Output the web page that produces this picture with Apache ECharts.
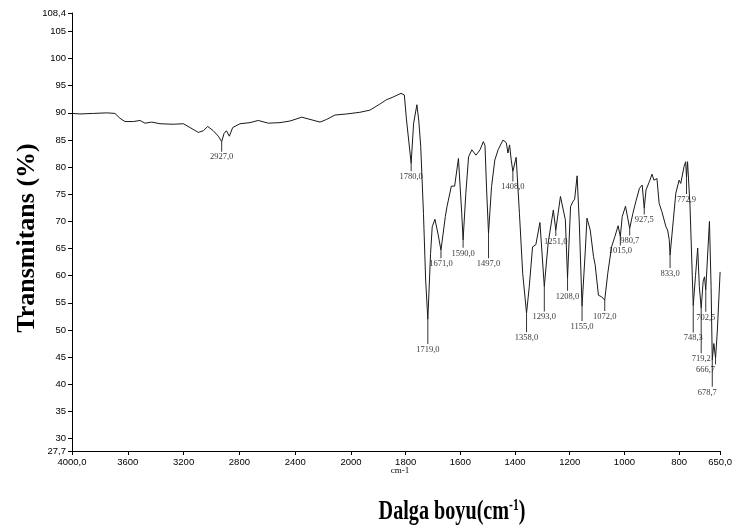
<!DOCTYPE html>
<html><head><meta charset="utf-8">
<script src="https://cdn.jsdelivr.net/npm/echarts@6/dist/echarts.min.js"></script>
<style>html,body{margin:0;padding:0;background:#fff}#c{width:735px;height:526px}</style>
</head><body><div id="c"></div>
<script>
// ---- data ----
const wavenumbers = [4000,3943,3847,3751,3692,3656,3620,3561,3513,3477,3429,3369,3274,3202,3154,3095,3059,3027,2987,2951,2927,2910,2893,2872,2848,2796,2724,2665,2593,2509,2437,2353,2294,2222,2174,2115,2031,2000,
1968,1931,1895,1871,1847,1817,1805,1797,1780,1771,1759,1752,1745,1735,1727,1719,1715,1709,1703,1693,1681,1671,1655,1649,1633,1621,1607,1595,1590,1580,1570,1558,1543,1528,1516,1510,1504,1497,1486,1474,1462,1444,1432,1426,1420,1414,1408,1396,1384,1372,1358,1348,1336,1324,1309,1293,1279,1260,1251,1234,1216,1208,1197,1189,1182,1173,1165,1155,1143,1137,1125,1113,1107,1095,1083,1078,1072,1061,1047,1035,1023,1015,1008,996,980.7,969,957,945,935,927.5,921,909,899,892,881,873,863,848,842,836,833,821,812,800,794,782,776,772.9,769,760,748.3,740,732,726,719.2,712,707,702.5,689,683,678.7,673,666.7,660,650];
const transmittance = [89.9,89.8,89.9,90.0,89.9,89.0,88.4,88.4,88.6,88.1,88.3,88.0,87.9,88.0,87.3,86.4,86.7,87.5,86.7,85.7,84.7,86.2,86.7,85.7,87.3,88.0,88.2,88.6,88.1,88.2,88.5,89.2,88.8,88.3,88.8,89.6,89.8,89.9,
90.1,90.5,91.6,92.4,92.9,93.6,93.3,88.7,80.7,88.1,91.5,88.5,83.8,71.5,59.2,52.0,56.8,64.1,69.0,70.4,67.5,64.7,70.9,72.7,76.5,76.5,81.6,71.5,66.6,75.2,81.9,83.2,82.2,83.2,84.7,84.0,75.8,67.8,76.4,81.3,83.2,85.0,84.5,82.6,84.1,81.3,79.2,81.8,71.5,60.4,53.1,58.0,65.3,65.7,69.8,58.0,66.0,72.1,68.4,74.6,70.3,59.6,72.7,73.6,74.1,78.4,69.7,54.4,64.7,70.6,68.4,63.5,62.0,56.4,56.1,56.2,55.5,60.4,65.3,67.2,69.2,67.2,70.9,72.8,68.7,71.5,73.9,76.1,76.7,72.4,75.8,77.3,78.7,77.6,77.9,73.3,71.8,69.0,68.4,66.6,63.8,70.3,75.2,77.6,77.0,80.1,81.0,78.2,81.0,72.7,54.5,60.0,65.1,58.0,54.0,59.0,59.8,57.4,70.0,58.0,44.5,47.5,44.8,50.0,60.7];

const peakWave   = [2927.0,1780.0,1719.0,1671.0,1590.0,1497.0,1408.0,1358.0,1293.0,1251.0,1208.0,1155.0,1072.0,1015.0,980.7,927.5,833.0,772.9,748.3,719.2,702.5,678.7,666.7];
const peakTrans  = [84.7,80.7,52.0,64.7,66.6,67.8,79.2,53.1,58.0,68.4,59.6,54.4,55.5,67.2,68.7,72.4,63.8,78.2,54.5,54.0,57.4,44.5,44.8];
const peakLabels = ['2927,0','1780,0','1719,0','1671,0','1590,0','1497,0','1408,0','1358,0','1293,0','1251,0','1208,0','1155,0','1072,0','1015,0','980,7','927,5','833,0','772,9','748,3','719,2','702,5','678,7','666,7'];

const xTicksHigh = [4000,3600,3200,2800,2400,2000];
const xTicksLow  = [1800,1600,1400,1200,1000,800,650];
const yTicks = [27.7,30,35,40,45,50,55,60,65,70,75,80,85,90,95,100,105,108.4];

// ---- styling of the peak leaders (pixel lengths / label shifts) ----
const leaderLen   = [10,8,25,8,8,25,10,19,25,6,13,15,11,9,7,6,13,17,27,45,22,27,6];
const labelShiftX = [0,0,0,0,0,0,0,0,0,0,0,0,0,0,0,0,0,0,0,0,0,-5,-10];

const highPart = [], lowPart = [];
wavenumbers.forEach((w, i) => {
  if (w >= 2000) highPart.push([w, transmittance[i]]);
  if (w <= 2000) lowPart.push([w, transmittance[i]]);
});
const peaksHigh = [], peaksLow = [];
peakWave.forEach((w, i) => {
  const L = leaderLen[i];
  const item = {value: [w, peakTrans[i]], name: peakLabels[i], symbolSize: [1, L], symbolOffset: [0, L / 2],
    label: {offset: [labelShiftX[i], 0]}};
  (w >= 2000 ? peaksHigh : peaksLow).push(item);
});

const fmtComma = v => String(v).replace('.', ',');
const tickFont = {fontFamily: 'Liberation Sans', fontSize: 9.5, color: '#000'};
const axisLineStyle = {lineStyle: {color: '#000', width: 1}};

const chart = echarts.init(document.getElementById('c'), null, {renderer: 'canvas'});
const yAxisCommon = {type: 'value', min: 27.7, max: 108.4, splitLine: {show: false}};
const peakSeries = (data, idx) => ({
  type: 'scatter', xAxisIndex: idx, yAxisIndex: idx, data: data, symbol: 'rect',
  itemStyle: {color: '#000'}, silent: true, z: 3,
  label: {show: true, position: 'bottom', distance: 1, formatter: p => p.name,
    fontFamily: 'Liberation Serif', fontSize: 8.5, color: '#000'}
});
chart.setOption({
  animation: false,
  backgroundColor: '#fff',
  grid: [
    {left: 72, top: 13, width: 279, bottom: 75},
    {left: 351, top: 13, width: 374, bottom: 75}
  ],
  xAxis: [
    {type: 'value', gridIndex: 0, min: 2000, max: 4000, inverse: true, splitLine: {show: false},
      axisLine: axisLineStyle, axisTick: {customValues: xTicksHigh, length: 4, lineStyle: {color: '#000'}},
      axisLabel: Object.assign({customValues: xTicksHigh, margin: 6, formatter: v => v === 4000 ? '4000,0' : String(v)}, tickFont)},
    {type: 'value', gridIndex: 1, min: 650, max: 2000, inverse: true, splitLine: {show: false},
      axisLine: axisLineStyle, axisTick: {customValues: xTicksLow, length: 4, lineStyle: {color: '#000'}},
      axisLabel: Object.assign({customValues: xTicksLow, margin: 6, formatter: v => v === 650 ? '650,0' : String(v)}, tickFont)}
  ],
  yAxis: [
    Object.assign({gridIndex: 0, axisLine: {show: true, lineStyle: {color: '#000', width: 1}},
      axisTick: {show: true, customValues: yTicks, length: 4, lineStyle: {color: '#000'}},
      axisLabel: Object.assign({customValues: yTicks, margin: 6, formatter: fmtComma}, tickFont)}, yAxisCommon),
    Object.assign({gridIndex: 1, show: false}, yAxisCommon)
  ],
  series: [
    {type: 'line', xAxisIndex: 0, yAxisIndex: 0, data: highPart, showSymbol: false, symbol: 'none',
      lineStyle: {color: '#1a1a1a', width: 1}, silent: true},
    {type: 'line', xAxisIndex: 1, yAxisIndex: 1, data: lowPart, showSymbol: false, symbol: 'none',
      lineStyle: {color: '#1a1a1a', width: 1}, silent: true},
    peakSeries(peaksHigh, 0),
    peakSeries(peaksLow, 1)
  ],
  graphic: [
    {type: 'text', x: 400, y: 471, style: {text: 'cm-1', font: '9px "Liberation Serif"', fill: '#000', align: 'center', verticalAlign: 'middle'}},
    {type: 'text', x: 27, y: 238, rotation: Math.PI / 2,
      style: {text: 'Transmitans (%)', font: 'bold 26px "Liberation Serif"', fill: '#000', align: 'center', verticalAlign: 'middle'}},
    {type: 'text', x: 452, y: 512, scaleX: 0.72,
      style: {text: '{a|Dalga boyu(cm}{s|-1}{a|)}', fill: '#000', align: 'center', verticalAlign: 'middle',
        rich: {a: {font: 'bold 28px "Liberation Serif"', fill: '#000'},
               s: {font: 'bold 16px "Liberation Serif"', fill: '#000', verticalAlign: 'top'}}}}
  ]
});
</script>
</body></html>
